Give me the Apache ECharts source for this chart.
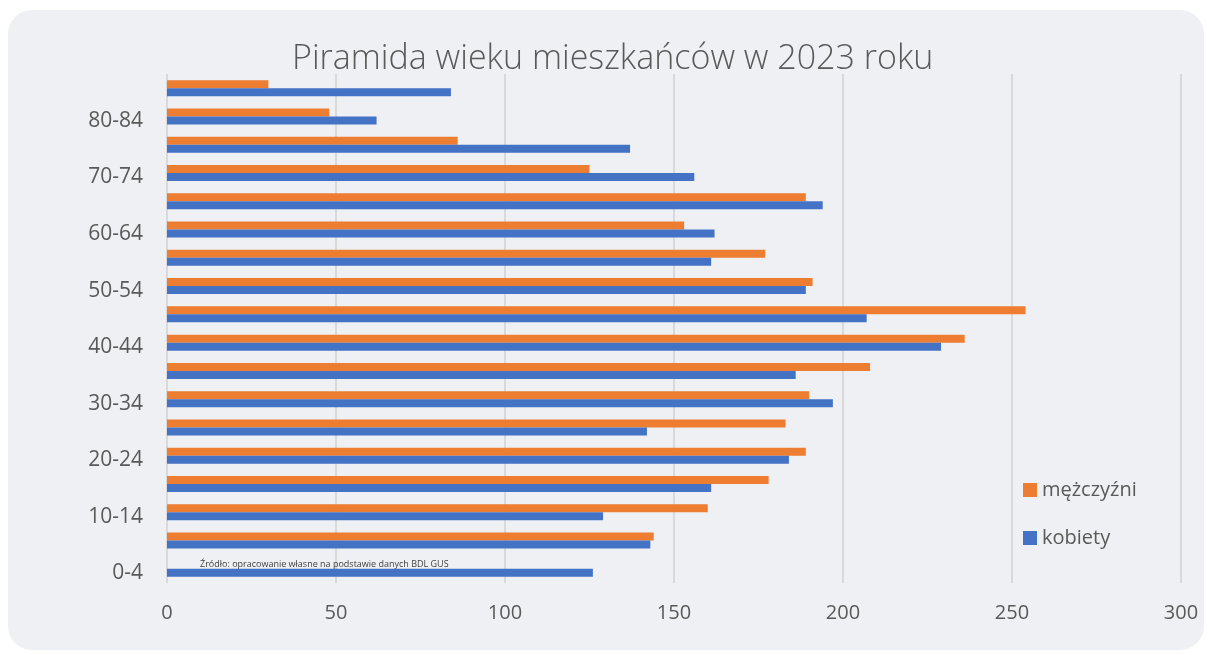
<!DOCTYPE html>
<html lang="pl">
<head>
    <meta charset="UTF-8">
    <title>Piramida wieku mieszkańców w 2023 roku</title>
    <script src="https://cdn.jsdelivr.net/npm/echarts@6/dist/echarts.min.js"></script>
    <style>
        html, body { margin: 0; padding: 0; background: #ffffff; }
        #panel { position: absolute; left: 8px; top: 10px; width: 1196px; height: 640px;
                 background: #eff0f4; border-radius: 24px; }
        #main { position: absolute; left: 0; top: 0; width: 1208px; height: 655px; }
    </style>
</head>
<body>
<div id="panel"></div>
<div id="main"></div>
<script type="text/javascript">
    // grupy wieku, od najmłodszej
    var categories = ['0-4', '5-9', '10-14', '15-19', '20-24', '25-29', '30-34', '35-39', '40-44',
        '45-49', '50-54', '55-59', '60-64', '65-69', '70-74', '75-79', '80-84', '85+'];
    var kobiety = [126, 143, 129, 161, 184, 142, 197, 186, 229, 207, 189, 161, 162, 194, 156, 137, 62, 84];
    // 0-4 dla mężczyzn zasłonięte przez pole tekstowe ze źródłem
    var mezczyzni = [null, 144, 160, 178, 189, 183, 190, 208, 236, 254, 191, 177, 153, 189, 125, 86, 48, 30];
    var xTicks = [0, 50, 100, 150, 200, 250, 300];

    var txt = '#595959';
    var font = 'Open Sans';

    var myChart = echarts.init(document.getElementById('main'));

    var option = {
        backgroundColor: 'transparent',
        title: {
            text: 'Piramida wieku mieszkańców w 2023 roku',
            left: 287,
            top: 37,
            textStyle: { fontFamily: font, fontWeight: 300, fontSize: 34, color: txt }
        },
        legend: {
            orient: 'vertical',
            left: 1018,
            top: 475,
            itemWidth: 14,
            itemHeight: 14,
            itemGap: 28,
            icon: 'rect',
            data: ['mężczyźni', 'kobiety'],
            textStyle: { fontFamily: font, fontSize: 20, color: txt }
        },
        grid: { left: 167, right: 27, top: 74, height: 509 },
        xAxis: {
            type: 'value',
            min: xTicks[0],
            max: xTicks[xTicks.length - 1],
            interval: xTicks[1] - xTicks[0],
            axisLine: { show: false },
            axisTick: { show: false },
            axisLabel: { fontFamily: font, fontSize: 20, color: txt, margin: 20 },
            splitLine: { lineStyle: { color: '#d9d9d9', width: 2 } }
        },
        yAxis: {
            type: 'category',
            data: categories,
            axisLine: { show: false },
            axisTick: { show: false },
            axisLabel: {
                interval: 1, margin: 24,
                formatter: function (v) { return '{a|' + v + '}'; },
                rich: { a: { fontFamily: font, fontSize: 21, color: txt, padding: [9, 0, 0, 0] } }
            }
        },
        series: [
            {
                name: 'mężczyźni',
                type: 'bar',
                data: mezczyzni,
                barWidth: 8,
                barGap: '0%',
                itemStyle: { color: '#ed7d31' }
            },
            {
                name: 'kobiety',
                type: 'bar',
                data: kobiety,
                barWidth: 8,
                itemStyle: { color: '#4472c4' }
            }
        ],
        graphic: [{
            type: 'text',
            left: 200,
            top: 560,
            z: 100,
            style: {
                text: 'Źródło: opracowanie własne na podstawie danych BDL GUS',
                fontFamily: font,
                fontSize: 9,
                fill: '#404040'
            }
        }]
    };

    myChart.setOption(option);
</script>
</body>
</html>
